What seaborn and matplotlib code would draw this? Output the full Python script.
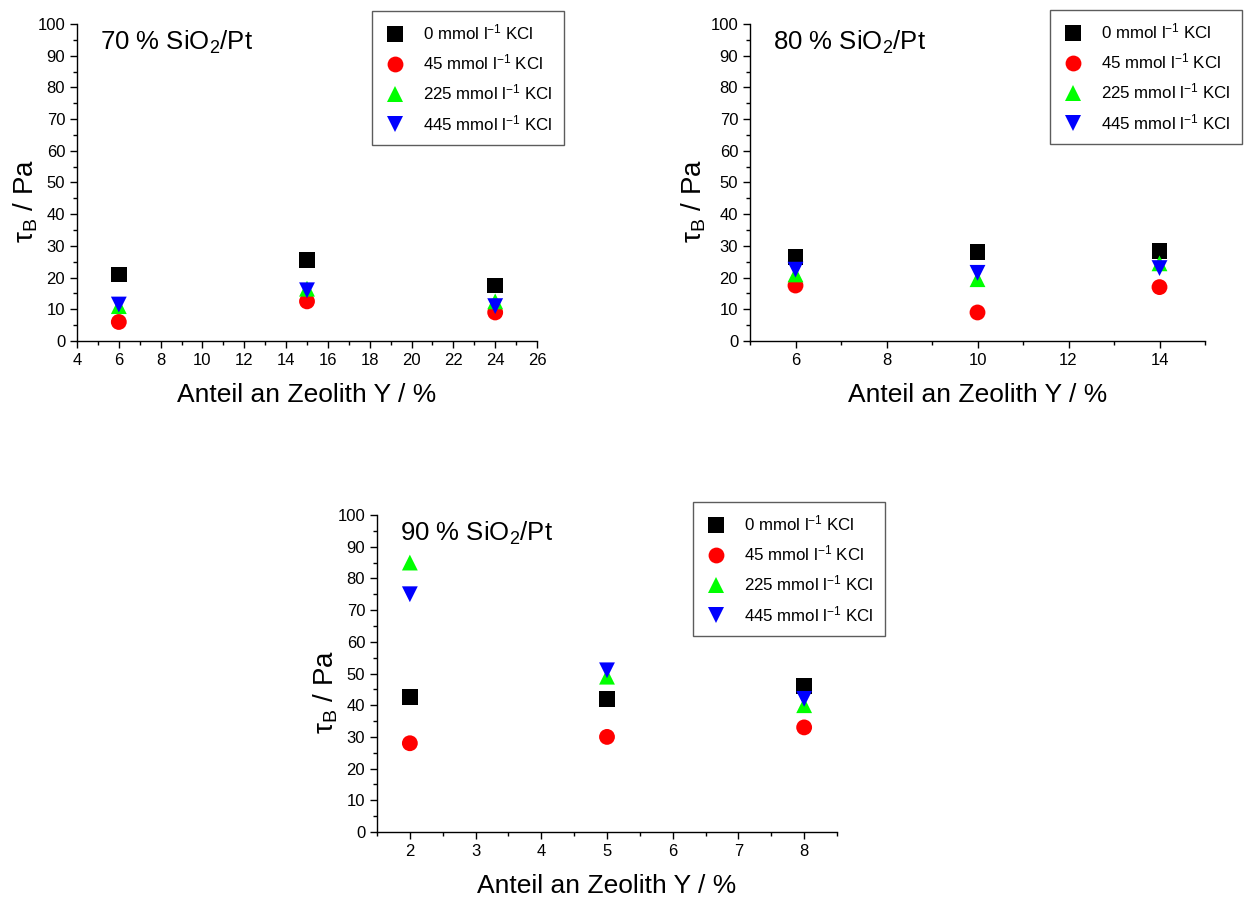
import numpy as np
import pandas as pd
import matplotlib
matplotlib.use("Agg")
import matplotlib.pyplot as plt
from matplotlib.ticker import MultipleLocator
import seaborn as sns

# data
series_labels = ["0 mmol l$^{-1}$ KCl", "45 mmol l$^{-1}$ KCl",
                 "225 mmol l$^{-1}$ KCl", "445 mmol l$^{-1}$ KCl"]
series_colors = ["#000000", "#ff0000", "#00ff00", "#0000ff"]
series_markers = ["s", "o", "^", "v"]

x_70 = [6, 15, 24]
tau_70_0 = [21.0, 25.5, 17.5]
tau_70_45 = [6.0, 12.5, 9.0]
tau_70_225 = [11.0, 16.5, 12.5]
tau_70_445 = [11.5, 16.0, 11.0]

x_80 = [6, 10, 14]
tau_80_0 = [26.5, 28.0, 28.5]
tau_80_45 = [17.5, 9.0, 17.0]
tau_80_225 = [21.0, 19.5, 24.5]
tau_80_445 = [22.5, 21.5, 23.0]

x_90 = [2, 5, 8]
tau_90_0 = [42.5, 42.0, 46.0]
tau_90_45 = [28.0, 30.0, 33.0]
tau_90_225 = [85.0, 49.0, 40.0]
tau_90_445 = [75.0, 51.0, 42.0]

sns.set_style("ticks")
plt.rcParams['font.family'] = ['Liberation Sans', 'DejaVu Sans']
plt.rcParams['mathtext.fontset'] = 'custom'
plt.rcParams['mathtext.rm'] = 'Liberation Sans'
plt.rcParams['mathtext.it'] = 'Liberation Sans:italic'
plt.rcParams['mathtext.sf'] = 'Liberation Sans'
plt.rcParams['text.color'] = 'black'
plt.rcParams['axes.labelcolor'] = 'black'
plt.rcParams['xtick.color'] = 'black'
plt.rcParams['ytick.color'] = 'black'


def long_frame(x, cols):
    rows = []
    for label, vals in zip(series_labels, cols):
        for xi, yi in zip(x, vals):
            rows.append({'x': xi, 'tau': yi, 'series': label})
    return pd.DataFrame(rows)


W, H = 1244, 897
fig = plt.figure(figsize=(W / 100, H / 100), dpi=100)


def px_axes(left, right, top, bottom):
    return fig.add_axes([left / W, 1 - bottom / H, (right - left) / W, (bottom - top) / H])


panels = [
    dict(box=(77, 537, 24, 341), x=x_70, cols=[tau_70_0, tau_70_45, tau_70_225, tau_70_445],
         xlim=(4, 26), xmaj=2, xmin=1, title="70 % SiO$_2$/Pt", leg=(372, 11), ylab_dx=-37),
    dict(box=(750, 1205, 24, 341), x=x_80, cols=[tau_80_0, tau_80_45, tau_80_225, tau_80_445],
         xlim=(5, 15), xmaj=2, xmin=1, title="80 % SiO$_2$/Pt", leg=(1050, 10), ylab_dx=-42),
    dict(box=(377, 837, 515, 832), x=x_90, cols=[tau_90_0, tau_90_45, tau_90_225, tau_90_445],
         xlim=(1.5, 8.5), xmaj=1, xmin=0.5, title="90 % SiO$_2$/Pt", leg=(693, 502), ylab_dx=-37),
]

for p in panels:
    ax = px_axes(*p['box'])
    df = long_frame(p['x'], p['cols'])
    sns.scatterplot(data=df, x='x', y='tau', hue='series', style='series',
                    hue_order=series_labels, style_order=series_labels,
                    palette=series_colors, markers=series_markers,
                    s=130, linewidth=0, ax=ax, legend=True)
    ax.set_xlim(*p['xlim'])
    ax.set_ylim(0, 100)
    ax.xaxis.set_major_locator(MultipleLocator(p['xmaj']))
    ax.xaxis.set_minor_locator(MultipleLocator(p['xmin']))
    ax.yaxis.set_major_locator(MultipleLocator(10))
    ax.yaxis.set_minor_locator(MultipleLocator(5))
    ax.tick_params(which='major', direction='out', length=5, width=1, labelsize=12)
    ax.tick_params(which='minor', direction='out', length=3, width=1)
    sns.despine(ax=ax)
    for s in ['left', 'bottom']:
        ax.spines[s].set_color('black')
        ax.spines[s].set_linewidth(1.0)
    ax.set_xlabel("Anteil an Zeolith Y / %", fontsize=19, labelpad=11)
    ax.set_ylabel("τ$_\\mathrm{B}$ / Pa", fontsize=20)
    axw = p['box'][1] - p['box'][0]
    ax.yaxis.set_label_coords(p['ylab_dx'] / axw, 0.44)
    ax.text(0.05, 0.985, p['title'], transform=ax.transAxes, fontsize=18.5,
            ha='left', va='top')

    lx, ly = p['leg']
    leg = ax.legend(loc='upper left', bbox_to_anchor=(lx / W, 1 - ly / H),
                    bbox_transform=fig.transFigure, fontsize=12.2, frameon=True,
                    fancybox=False, borderpad=0.7, labelspacing=0.6,
                    handletextpad=0.95, handlelength=1.35, borderaxespad=0,
                    markerscale=1.0)
    leg.get_frame().set_edgecolor('#333333')
    leg.get_frame().set_linewidth(1.0)

fig.savefig("out.png", dpi=100)
